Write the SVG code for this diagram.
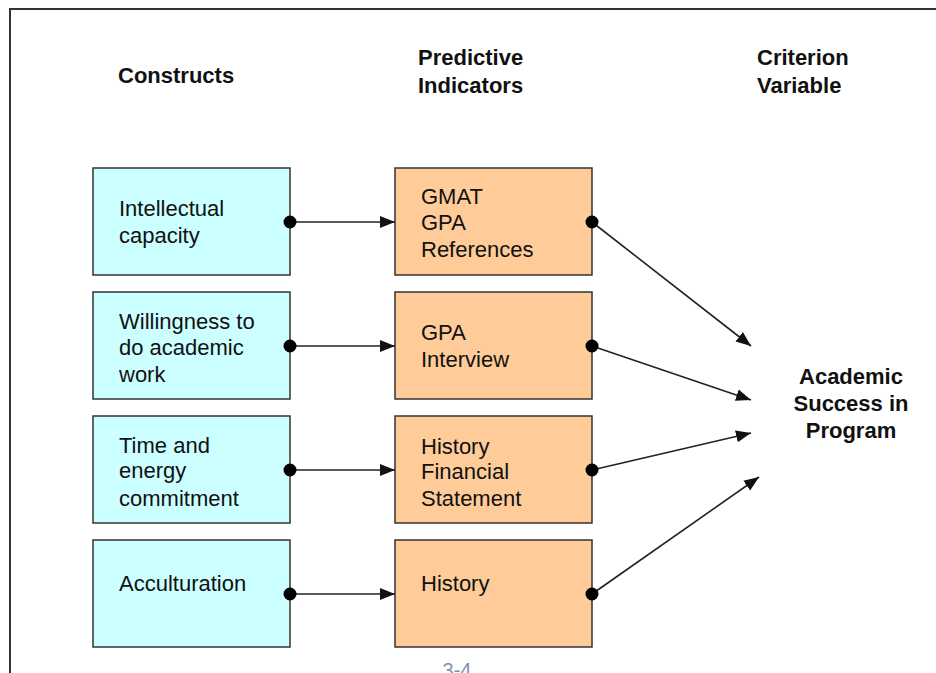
<svg xmlns="http://www.w3.org/2000/svg" width="936" height="673" viewBox="0 0 936 673">
  <style>
    .frame { fill: none; stroke: #333; stroke-width: 2; }
    .construct rect { fill: #ccffff; stroke: #333; stroke-width: 1.5; }
    .indicator rect { fill: #ffcc99; stroke: #333; stroke-width: 1.5; }
    .body { font-family: "Liberation Sans", Arial, sans-serif; font-size: 22px; fill: #111; }
    .head { font-family: "Liberation Sans", Arial, sans-serif; font-size: 22px; font-weight: bold; fill: #111; }
    .conn line { stroke: #222; stroke-width: 1.6; marker-end: url(#arrow); }
    .conn circle { fill: #000; }
    .page { font-family: "Liberation Sans", Arial, sans-serif; font-size: 20px; fill: #8090a8; }
  </style>
  <defs>
    <marker id="arrow" markerUnits="userSpaceOnUse" markerWidth="16" markerHeight="14" refX="15" refY="7" orient="auto">
      <path d="M0,1 L15,7 L0,13 Z" fill="#111"/>
    </marker>
  </defs>

  <rect width="936" height="673" fill="#fff"/>
  <!-- page frame -->
  <path class="frame" d="M10,673 V9 H936"/>

  <!-- column headings -->
  <g id="headings">
    <text class="head" x="118" y="83">Constructs</text>
    <text class="head" x="418" y="65">Predictive</text>
    <text class="head" x="418" y="93">Indicators</text>
    <text class="head" x="757" y="65">Criterion</text>
    <text class="head" x="757" y="93">Variable</text>
  </g>

  <!-- constructs -->
  <g id="intellectual-capacity" class="construct">
    <rect x="93" y="168" width="197" height="107"/>
    <text class="body" x="119" y="216">Intellectual</text>
    <text class="body" x="119" y="243">capacity</text>
  </g>
  <g id="willingness" class="construct">
    <rect x="93" y="292" width="197" height="107"/>
    <text class="body" x="119" y="329">Willingness to</text>
    <text class="body" x="119" y="355">do academic</text>
    <text class="body" x="119" y="382">work</text>
  </g>
  <g id="time-energy" class="construct">
    <rect x="93" y="416" width="197" height="107"/>
    <text class="body" x="119" y="453">Time and</text>
    <text class="body" x="119" y="478">energy</text>
    <text class="body" x="119" y="506">commitment</text>
  </g>
  <g id="acculturation" class="construct">
    <rect x="93" y="540" width="197" height="107"/>
    <text class="body" x="119" y="591">Acculturation</text>
  </g>

  <!-- predictive indicators -->
  <g id="gmat-gpa-references" class="indicator">
    <rect x="395" y="168" width="197" height="107"/>
    <text class="body" x="421" y="204">GMAT</text>
    <text class="body" x="421" y="230">GPA</text>
    <text class="body" x="421" y="257">References</text>
  </g>
  <g id="gpa-interview" class="indicator">
    <rect x="395" y="292" width="197" height="107"/>
    <text class="body" x="421" y="340">GPA</text>
    <text class="body" x="421" y="367">Interview</text>
  </g>
  <g id="history-financial" class="indicator">
    <rect x="395" y="416" width="197" height="107"/>
    <text class="body" x="421" y="454">History</text>
    <text class="body" x="421" y="479">Financial</text>
    <text class="body" x="421" y="506">Statement</text>
  </g>
  <g id="history" class="indicator">
    <rect x="395" y="540" width="197" height="107"/>
    <text class="body" x="421" y="591">History</text>
  </g>

  <!-- criterion variable -->
  <g id="academic-success">
    <text class="head" x="851" y="384" text-anchor="middle">Academic</text>
    <text class="head" x="851" y="411" text-anchor="middle">Success in</text>
    <text class="head" x="851" y="438" text-anchor="middle">Program</text>
  </g>

  <!-- connectors -->
  <g id="connectors" class="conn">
    <line x1="290" y1="222" x2="395" y2="222"/>
    <line x1="290" y1="346" x2="395" y2="346"/>
    <line x1="290" y1="470" x2="395" y2="470"/>
    <line x1="290" y1="594" x2="395" y2="594"/>
    <line x1="592" y1="222" x2="751" y2="346"/>
    <line x1="592" y1="346" x2="751" y2="400"/>
    <line x1="592" y1="470" x2="751" y2="433"/>
    <line x1="592" y1="594" x2="759" y2="477"/>
    <circle cx="290" cy="222" r="6.5"/>
    <circle cx="290" cy="346" r="6.5"/>
    <circle cx="290" cy="470" r="6.5"/>
    <circle cx="290" cy="594" r="6.5"/>
    <circle cx="592" cy="222" r="6.5"/>
    <circle cx="592" cy="346" r="6.5"/>
    <circle cx="592" cy="470" r="6.5"/>
    <circle cx="592" cy="594" r="6.5"/>
  </g>

  <!-- page number, partly below the lower edge -->
  <text class="page" x="457" y="677" text-anchor="middle">3-4</text>
</svg>
